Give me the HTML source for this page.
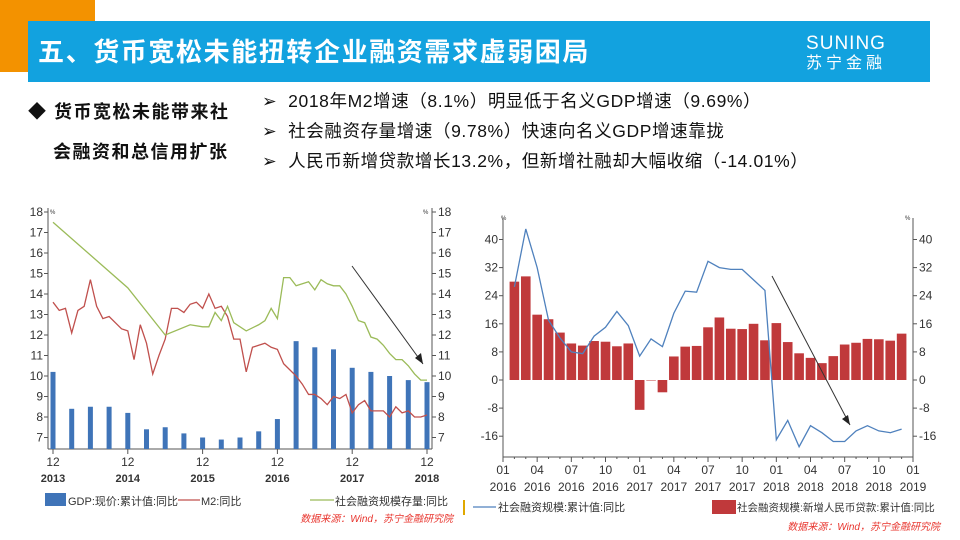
<!DOCTYPE html>
<html><head><meta charset="utf-8">
<style>
body{margin:0;width:960px;height:540px;background:#fff;position:relative;overflow:hidden;font-family:"Liberation Sans","Noto Sans CJK SC",sans-serif}
.abs{position:absolute}
</style></head><body>
<div class="abs" style="left:0;top:0;width:95px;height:72px;background:#f39200"></div>
<div class="abs" style="left:28px;top:21px;width:902px;height:61px;background:#12a2df"></div>
<div class="abs" style="left:38px;top:32px;font-size:26px;font-weight:bold;color:#fff;letter-spacing:1.6px">五、货币宽松未能扭转企业融资需求虚弱困局</div>
<div class="abs" style="left:806px;top:34px;color:#fff;text-align:center;line-height:20px"><div style="font-size:19px;letter-spacing:1px">SUNING</div><div style="font-size:16px;letter-spacing:4px">苏宁金融</div></div>
<div class="abs" style="left:28px;top:92px;font-size:18px;font-weight:bold;line-height:40px;color:#111;letter-spacing:1.5px">◆ 货币宽松未能带来社<br><span style="padding-left:25px">会融资和总信用扩张</span></div>
<div class="abs" style="left:262px;top:86px;font-size:17.5px;line-height:30px;color:#111;letter-spacing:0.6px">
<div>➢&nbsp; 2018年M2增速（8.1%）明显低于名义GDP增速（9.69%）</div>
<div>➢&nbsp; 社会融资存量增速（9.78%）快速向名义GDP增速靠拢</div>
<div>➢&nbsp; 人民币新增贷款增长13.2%，但新增社融却大幅收缩（-14.01%）</div>
</div>
<svg class="abs" style="left:0;top:0" width="960" height="540" id="svg"></svg>
<script>
// Left chart data
const gdpBars=[10.2,8.4,8.5,8.5,8.2,7.4,7.5,7.2,7.0,6.9,7.0,7.3,7.9,11.7,11.4,11.3,10.4,10.2,10.0,9.8,9.7];
const m2=[13.6,13.2,13.3,12.1,13.2,13.4,14.7,13.4,12.8,12.9,12.6,12.3,12.2,10.8,12.5,11.6,10.1,11.0,11.8,13.3,13.3,13.1,13.5,13.6,13.3,14.0,13.3,13.4,12.9,11.8,11.8,10.2,11.4,11.5,11.6,11.4,11.3,10.6,10.3,10.0,9.6,9.1,9.1,8.9,8.6,9.0,8.9,9.1,8.2,8.6,8.8,8.3,8.3,8.3,8.0,8.5,8.2,8.3,8.0,8.0,8.1];
const tsfMonths=[0,12,18,22,24,25,26,27,28,29,31,33,34,35,36,37,38,39,40,41,42,43,44,45,46,47,48,49,50,51,52,53,54,55,56,57,58,59,60];
const tsfStock=[17.5,14.3,12.0,12.5,12.4,12.4,13.1,12.7,13.4,12.6,12.2,12.5,12.7,13.3,12.8,14.8,14.8,14.4,14.5,14.6,14.2,14.7,14.5,14.4,14.4,14.0,13.4,12.7,12.6,11.9,11.8,11.5,11.1,10.8,10.8,10.5,10.1,9.8,9.8];
const leftTicks=[7,8,9,10,11,12,13,14,15,16,17,18];
const leftXLabels=[["12","2013"],["12","2014"],["12","2015"],["12","2016"],["12","2017"],["12","2018"]];
// Right chart data
const newLoans=[28,29.5,18.6,17.3,13.5,10.4,9.8,11.1,10.9,9.6,10.4,-8.5,-0.1,-3.5,6.7,9.5,9.7,15,17.8,14.6,14.5,16,11.3,16.2,10.8,7.6,6.3,4.8,6.8,10.1,10.6,11.7,11.6,11.2,13.2];
const tsfFlow=[26.5,43,32,17,12,8,7.5,12.5,15,19.5,15.5,6.8,11.7,9.5,19,25.3,25,33.8,32,31.5,31.5,28.5,25.5,-17,-11.5,-19,-13,-15,-17.5,-17.5,-14.5,-13,-14.5,-15,-14];
const rightTicks=[-16,-8,0,8,16,24,32,40];
const rightXLabels=[["01","2016"],["04","2016"],["07","2016"],["10","2016"],["01","2017"],["04","2017"],["07","2017"],["10","2017"],["01","2018"],["04","2018"],["07","2018"],["10","2018"],["01","2019"]];

const svg=document.getElementById('svg');const NS='http://www.w3.org/2000/svg';
function mk(t,a,txt){const e=document.createElementNS(NS,t);for(const k in a)e.setAttribute(k,a[k]);if(txt!==undefined)e.textContent=txt;svg.appendChild(e);return e;}
const F='"Liberation Sans","Noto Sans CJK SC",sans-serif';

// ---- Left chart ----
const L={x0:48,x1:432,top:208,bot:449};
const ly=v=>212+(18-v)*20.5;
const lxM=m=>53+m*(374/60);
let e;
e=mk('line',{x1:L.x0,y1:L.top,x2:L.x0,y2:L.bot,stroke:'#555'});
e=mk('line',{x1:L.x1,y1:L.top,x2:L.x1,y2:L.bot,stroke:'#555'});
e=mk('line',{x1:L.x0,y1:L.bot,x2:L.x1,y2:L.bot,stroke:'#555'});
leftTicks.forEach(v=>{const y=ly(v);
 mk('line',{x1:L.x0-4,y1:y,x2:L.x0,y2:y,stroke:'#555'});mk('line',{x1:L.x1,y1:y,x2:L.x1+4,y2:y,stroke:'#555'});
 e=mk('text',{x:L.x0-5,y:y+4,'font-size':12,'text-anchor':'end',fill:'#333','font-family':F},v);
 e=mk('text',{x:L.x1+6,y:y+4,'font-size':12,fill:'#333','font-family':F},v);});
mk('text',{x:L.x0+2,y:214,'font-size':6,fill:'#333'},'%');mk('text',{x:L.x1-9,y:214,'font-size':6,fill:'#333'},'%');
leftXLabels.forEach((l,i)=>{const x=lxM(i*12);mk('line',{x1:x,y1:L.bot,x2:x,y2:L.bot+5,stroke:'#555'});
 e=mk('text',{x:x,y:466,'font-size':12,'text-anchor':'middle',fill:'#333','font-family':F},l[0]);
 e=mk('text',{x:x,y:482,'font-size':11,'font-weight':'bold','text-anchor':'middle',fill:'#333','font-family':F},l[1]);});
gdpBars.forEach((v,i)=>{const x=lxM(i*3);e=mk('rect',{x:x-2.5,y:ly(v),width:5,height:L.bot-ly(v),fill:'#3f74b8'});});
e=mk('polyline',{points:m2.map((v,i)=>lxM(i)+','+ly(v)).join(' '),fill:'none',stroke:'#c0504d','stroke-width':1.3});
e=mk('polyline',{points:tsfStock.map((v,i)=>lxM(tsfMonths[i])+','+ly(v)).join(' '),fill:'none',stroke:'#9bbb59','stroke-width':1.3});
e=mk('line',{x1:352,y1:266,x2:423,y2:364,stroke:'#333','stroke-width':1});
mk('polygon',{points:'423,364 415,358 421,353',fill:'#222'});
e=mk('rect',{x:45,y:493,width:21,height:13,fill:'#3f74b8'});
e=mk('text',{x:68,y:505,'font-size':11,fill:'#333','font-family':F},'GDP:现价:累计值:同比');
mk('line',{x1:178,y1:500,x2:200,y2:500,stroke:'#c0504d','stroke-width':1.3});
e=mk('text',{x:201,y:505,'font-size':11,fill:'#333','font-family':F},'M2:同比');
mk('line',{x1:310,y1:500,x2:334,y2:500,stroke:'#9bbb59','stroke-width':1.3});
e=mk('text',{x:335,y:505,'font-size':11,fill:'#333','font-family':F},'社会融资规模存量:同比');
e=mk('text',{x:453,y:522,'font-size':10,'font-style':'italic','text-anchor':'end',fill:'#e8352e','font-family':F},'数据来源：Wind，苏宁金融研究院');

// ---- Right chart ----
const R={x0:503,x1:913,top:218,bot:457};
const ry=v=>380-v*(28.1/8);
const rxM=m=>503+m*(410/36);
e=mk('line',{x1:R.x0,y1:R.top,x2:R.x0,y2:R.bot,stroke:'#555'});
e=mk('line',{x1:R.x1,y1:R.top,x2:R.x1,y2:R.bot,stroke:'#555'});
e=mk('line',{x1:R.x0,y1:R.bot,x2:R.x1,y2:R.bot,stroke:'#555'});
rightTicks.forEach(v=>{const y=ry(v);
 mk('line',{x1:R.x0-4,y1:y,x2:R.x0,y2:y,stroke:'#555'});mk('line',{x1:R.x1,y1:y,x2:R.x1+4,y2:y,stroke:'#555'});
 e=mk('text',{x:R.x0-5,y:y+4,'font-size':12,'text-anchor':'end',fill:'#333','font-family':F},v);
 e=mk('text',{x:R.x1+6,y:y+4,'font-size':12,fill:'#333','font-family':F},v);});
mk('text',{x:R.x0-2,y:220,'font-size':6,fill:'#333'},'%');mk('text',{x:R.x1-8,y:220,'font-size':6,fill:'#333'},'%');
for(let m=0;m<=36;m++){const x=rxM(m);mk('line',{x1:x,y1:R.bot,x2:x,y2:R.bot+(m%3?2:5),stroke:'#555'});}
rightXLabels.forEach((l,i)=>{const x=rxM(i*3);
 e=mk('text',{x:x,y:474,'font-size':12,'text-anchor':'middle',fill:'#333','font-family':F},l[0]);
 e=mk('text',{x:x,y:491,'font-size':12,'text-anchor':'middle',fill:'#333','font-family':F},l[1]);});
newLoans.forEach((v,i)=>{const x=rxM(i+1);const y0=ry(Math.max(v,0)),y1=ry(Math.min(v,0));e=mk('rect',{x:x-4.8,y:y0,width:9.6,height:Math.max(y1-y0,0.5),fill:'#c0393b'});});
e=mk('polyline',{points:tsfFlow.map((v,i)=>rxM(i+1)+','+ry(v)).join(' '),fill:'none',stroke:'#4f81bd','stroke-width':1.3});
e=mk('line',{x1:772,y1:276,x2:850,y2:425,stroke:'#333','stroke-width':1});
mk('polygon',{points:'850,425 842,419 848,415',fill:'#222'});
mk('rect',{x:463,y:500,width:2,height:15,fill:'#e0a800'});
mk('line',{x1:473,y1:507,x2:496,y2:507,stroke:'#4f81bd','stroke-width':1.3});
e=mk('text',{x:498,y:511,'font-size':11,fill:'#333','font-family':F},'社会融资规模:累计值:同比');
e=mk('rect',{x:712,y:500,width:24,height:14,fill:'#c0393b'});
e=mk('text',{x:737,y:511,'font-size':10.5,fill:'#333','font-family':F},'社会融资规模:新增人民币贷款:累计值:同比');
e=mk('text',{x:940,y:530,'font-size':10,'font-style':'italic','text-anchor':'end',fill:'#e8352e','font-family':F},'数据来源：Wind，苏宁金融研究院');
</script>
</body></html>
